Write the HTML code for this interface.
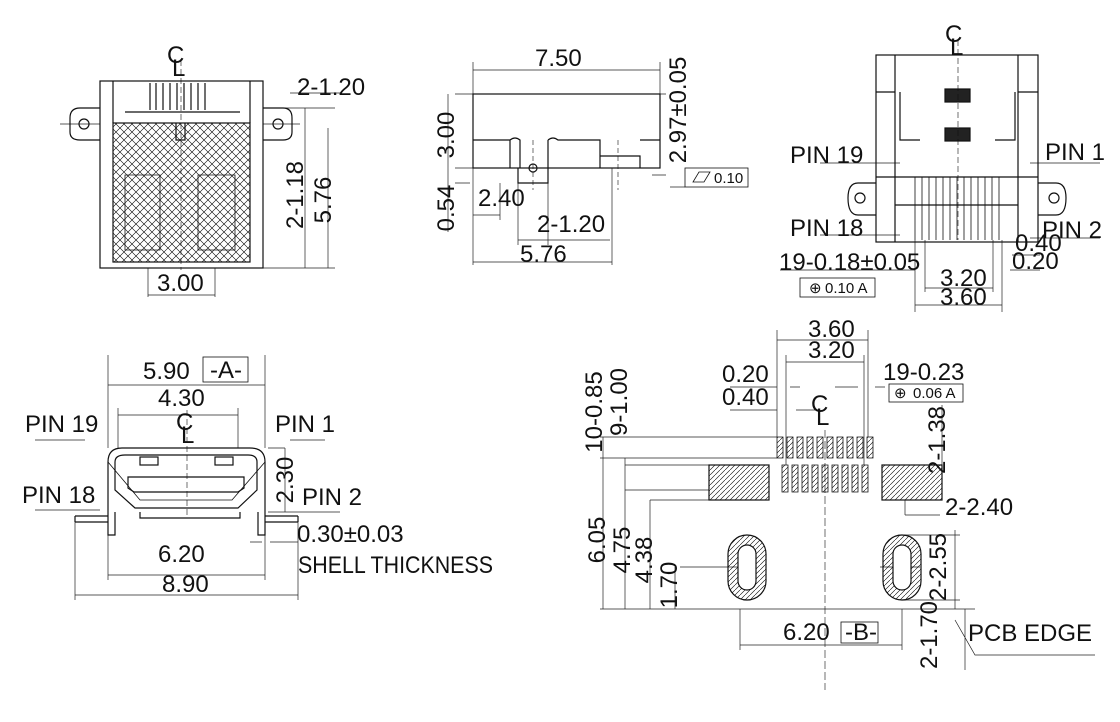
<!DOCTYPE html>
<html><head><meta charset="utf-8"><style>
html,body{margin:0;padding:0;background:#fff}
svg{display:block}
text{font-family:"Liberation Sans",sans-serif;font-size:24px;fill:#111}
.s{font-size:15px}
.v{text-anchor:middle}
</style></head><body>
<svg width="1120" height="722" viewBox="0 0 1120 722" xmlns="http://www.w3.org/2000/svg">
<defs>
<pattern id="x" width="8" height="8" patternUnits="userSpaceOnUse"><path d="M0 0L8 8M8 0L0 8" stroke="#000" stroke-width="0.6"/></pattern>
<pattern id="h" width="5" height="5" patternUnits="userSpaceOnUse"><path d="M0 5L5 0" stroke="#000" stroke-width="0.6"/></pattern>
</defs>
<g fill="none" stroke="#222" stroke-width="0.7">
<!-- thin dimension lines -->
<!-- top-left -->
<path d="M263 108H335M263 268H335M305 108V268M328 128V268M290 93H340M148 268V297M215 268V297M148 295H215M60 124H100M263 124H300"/>
<!-- top-middle -->
<path d="M473 62V94M660 62V94M473 70H660M455 94H473M455 168H473M448 94V168M455 183H470M448 168V232M500 183V220M518 183V245M548 183V245M473 168V265M612 168V265M473 262H612M473 215H500M518 240H610M660 94V168M652 94H666M652 175H666M670 187H685"/>
<!-- top-right -->
<path d="M915 240V312M1002 240V312M925 240V292M993 240V292M915 305H1002M925 288H993M820 163H900M1030 163H1100M820 235H900M1030 238H1100M780 270H915M1012 255H1040M1010 270H1040"/>
<!-- bottom-left -->
<path d="M108 355V448M265 355V448M108 385H265M118 408V448M238 408V448M118 415H238M108 535V580M265 535V580M108 575H265M75 520V600M298 520V600M75 595H298M268 448H285M285 448V512M268 512H305M35 440H85M290 440H325M35 510H100M290 512H340M250 542H262M270 542H298"/>
<!-- bottom-right -->
<path d="M777 330V437M868 330V437M777 340H868M786 355V465M864 355V465M786 362H864M730 387H777M790 387H800M835 387H858M875 387H885M730 410H777M796 410H820M600 437H777M600 458H777M625 465H709M625 490H709M650 500H709M603 437V609M625 458V609M650 500V609M675 567V609M600 609H975M680 567H740M880 567H920M905 500V515M905 515H940M902 535H960M902 600H960M942 405V465M955 530V609M740 609V650M902 609V650M740 645H902M965 609V670M955 620L975 655H1095"/>
</g>
<g fill="none" stroke="#111" stroke-width="1.2">
<!-- top-left view -->
<rect x="100" y="81" width="163" height="187"/>
<rect x="113" y="123" width="137" height="139" fill="url(#x)"/>
<path d="M100 108H80Q70 108 70 118V132Q70 140 80 140H100M263 108H283Q292 108 292 118V132Q292 140 283 140H263"/>
<circle cx="84" cy="124" r="5"/><circle cx="278" cy="124" r="5"/>
<path d="M113 81V123M250 81V123M125 112H240M176 123V140H185V123"/>
<path d="M150 83V110M156 83V110M163 83V110M170 83V110M177 83V110M184 83V110M191 83V110M198 83V110M205 83V110"/>
<path d="M125 175V250H160V175ZM198 175V250H235V175Z" stroke-width="0.8"/>
<path d="M181 60V270" stroke-dasharray="6 3" stroke-width="0.6"/>
<!-- top-middle -->
<rect x="473" y="94" width="187" height="74"/>
<path d="M473 140H510V168M510 140Q515 136 520 140V168M548 140V168M548 140Q553 136 558 140H600V168M640 140H660M600 156H640V168M518 168V183H548V168"/>
<circle cx="533" cy="168" r="4"/>
<path d="M533 140V190M618 140V190" stroke-dasharray="5 3" stroke-width="0.6"/>
<rect x="685" y="168" width="63" height="19" stroke-width="0.8"/>
<path d="M693 182L699 172H710L704 182Z" stroke-width="0.8"/>
<!-- top-right -->
<rect x="876" y="55" width="162" height="187"/>
<path d="M895 55V242M1018 55V242M876 92H895M1018 92H1038M900 92V140H920M1015 92V140H995M876 177H1038M895 205H1018"/>
<rect x="945" y="89" width="25" height="13" fill="#222"/><rect x="945" y="128" width="25" height="13" fill="#222"/>
<path d="M876 183H858Q848 183 848 198Q848 215 858 215H876M1038 183H1056Q1066 183 1066 198Q1066 215 1056 215H1038"/>
<circle cx="860" cy="198" r="5"/><circle cx="1054" cy="198" r="5"/>
<path d="M915 177V240M922 177V240M929 177V240M936 177V240M943 177V240M950 177V240M957 177V240M964 177V240M971 177V240M978 177V240M985 177V240M992 177V240M999 177V240" stroke-width="0.8"/>
<path d="M958 40V240" stroke-dasharray="6 3" stroke-width="0.6"/>
<rect x="800" y="278" width="75" height="19" stroke-width="0.8"/>
<!-- bottom-left -->
<path d="M108 512V462Q108 448 122 448H250Q265 448 265 462V512"/>
<path d="M108 462L140 500H232L265 462" stroke-width="0.8"/>
<path d="M115 462Q115 455 125 455H248Q257 455 257 462V490L238 508H135L115 490Z"/>
<path d="M128 477H244V488L238 492H134L128 488Z"/>
<rect x="140" y="457" width="18" height="8"/><rect x="215" y="457" width="18" height="8"/>
<path d="M75 516H108M75 522H108M75 516V522M265 516H298M265 522H298M298 516V522M108 512V535H115V512M265 512V535H258V512"/>
<path d="M140 512V518H240V512"/>
<path d="M187 410V515" stroke-dasharray="6 3" stroke-width="0.6"/>
<rect x="203" y="357" width="45" height="25" stroke-width="0.8"/>
<!-- bottom-right -->
<g stroke-width="0.8">
<path d="M777 437h6v21h-6zM787 437h6v21h-6zM797 437h6v21h-6zM807 437h6v21h-6zM817 437h6v21h-6zM827 437h6v21h-6zM837 437h6v21h-6zM847 437h6v21h-6zM857 437h6v21h-6zM867 437h6v21h-6z" fill="url(#h)"/>
<path d="M782 465h6v27h-6zM792 465h6v27h-6zM802 465h6v27h-6zM812 465h6v27h-6zM822 465h6v27h-6zM832 465h6v27h-6zM842 465h6v27h-6zM852 465h6v27h-6zM862 465h6v27h-6z" fill="url(#h)"/>
</g>
<rect x="709" y="465" width="60" height="35" fill="url(#h)"/><rect x="882" y="465" width="60" height="35" fill="url(#h)"/>
<rect x="728" y="535" width="38" height="65" rx="19" fill="url(#h)"/><rect x="738" y="545" width="18" height="45" rx="9" fill="#fff"/>
<rect x="883" y="535" width="38" height="65" rx="19" fill="url(#h)"/><rect x="893" y="545" width="18" height="45" rx="9" fill="#fff"/>
<path d="M825 430V690" stroke-dasharray="8 3" stroke-width="0.6"/>
<rect x="889" y="384" width="74" height="18" stroke-width="0.8"/><rect x="841" y="622" width="37" height="21" stroke-width="0.8"/>
</g>
<text x="167" y="63">C</text><text x="172" y="76">L</text>
<text x="297" y="95">2-1.20</text>
<text class="v" transform="translate(303 195) rotate(-90)">2-1.18</text>
<text class="v" transform="translate(331 200) rotate(-90)">5.76</text>
<text x="157" y="291">3.00</text>
<text x="535" y="66">7.50</text>
<text class="v" transform="translate(454 135) rotate(-90)">3.00</text>
<text class="v" transform="translate(686 110) rotate(-90)">2.97±0.05</text>
<text class="v" transform="translate(454 208) rotate(-90)">0.54</text>
<text x="478" y="206">2.40</text>
<text x="537" y="232">2-1.20</text>
<text x="520" y="262">5.76</text>
<text class="s" x="714" y="183">0.10</text>
<text x="945" y="42">C</text><text x="950" y="55">L</text>
<text x="790" y="163">PIN 19</text><text x="1045" y="160">PIN 1</text>
<text x="790" y="236">PIN 18</text><text x="1042" y="238">PIN 2</text>
<text x="1015" y="251">0.40</text><text x="1012" y="269">0.20</text>
<text x="779" y="270">19-0.18±0.05</text>
<text class="s" x="809" y="293">⊕</text><text class="s" x="825" y="293">0.10 A</text>
<text x="940" y="286">3.20</text><text x="940" y="305">3.60</text>
<text x="143" y="379">5.90</text><text x="210" y="378">-A-</text>
<text x="158" y="406">4.30</text>
<text x="176" y="430">C</text><text x="181" y="443">L</text>
<text x="25" y="432">PIN 19</text><text x="275" y="432">PIN 1</text>
<text x="22" y="503">PIN 18</text><text x="302" y="505">PIN 2</text>
<text class="v" transform="translate(293 480) rotate(-90)">2.30</text>
<text x="297" y="542">0.30±0.03</text>
<text x="298" y="573" textLength="195" lengthAdjust="spacingAndGlyphs">SHELL THICKNESS</text>
<text x="158" y="562">6.20</text><text x="162" y="592">8.90</text>
<text x="808" y="337">3.60</text><text x="808" y="358">3.20</text>
<text x="722" y="382">0.20</text><text x="722" y="405">0.40</text>
<text x="883" y="380">19-0.23</text>
<text class="s" x="894" y="398">⊕</text><text class="s" x="913" y="398">0.06 A</text>
<text x="811" y="412">C</text><text x="816" y="425">L</text>
<text class="v" transform="translate(602 412) rotate(-90)">10-0.85</text>
<text class="v" transform="translate(627 402) rotate(-90)">9-1.00</text>
<text class="v" transform="translate(945 440) rotate(-90)">2-1.38</text>
<text x="945" y="515">2-2.40</text>
<text class="v" transform="translate(605 540) rotate(-90)">6.05</text>
<text class="v" transform="translate(630 550) rotate(-90)">4.75</text>
<text class="v" transform="translate(652 560) rotate(-90)">4.38</text>
<text class="v" transform="translate(677 585) rotate(-90)">1.70</text>
<text class="v" transform="translate(946 567) rotate(-90)">2-2.55</text>
<text class="v" transform="translate(937 635) rotate(-90)">2-1.70</text>
<text x="783" y="640">6.20</text><text x="845" y="640">-B-</text>
<text x="968" y="641">PCB EDGE</text>
</svg>
</body></html>
